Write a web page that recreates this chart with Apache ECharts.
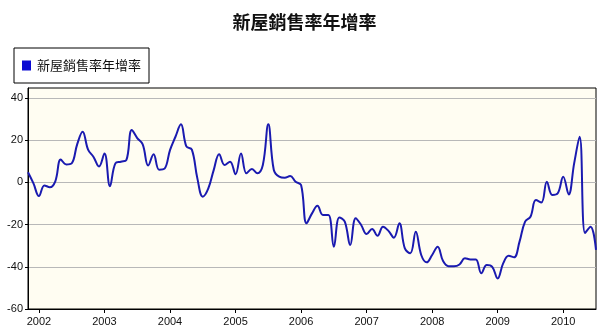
<!DOCTYPE html>
<html>
<head>
<meta charset="utf-8">
<script src="https://cdn.jsdelivr.net/npm/echarts@6/dist/echarts.min.js"></script>
<style>html,body{margin:0;padding:0;background:#fff;}#c{width:609px;height:335px;}</style>
</head>
<body>
<div id="c"></div>
<script>
var chartTitle = '新屋銷售率年增率';
var seriesName = '新屋銷售率年增率';
var startYear = 2001, startMonth = 11;
var values = [
  4.8, -0.5,
  -6.5, -1.5, -2.3, 0.5, 10.8, 8.5, 9, 18, 24, 15.5, 12, 7.5,
  13.7, -1.8, 9, 9.8, 10.5, 24.8, 21, 18, 8, 13.3, 6, 6.5,
  15.3, 21.6, 27.5, 17, 15.5, 2, -6.8, -3, 5.8, 13.3, 8.2, 9.8,
  3.8, 13.7, 4.3, 6.3, 4.3, 8.2, 27.5, 6, 2.7, 2.2, 3, 0.3,
  -1.3, -19.4, -14.7, -11.1, -15.5, -15.5, -30.5, -16.6, -18.6, -29.7, -17, -20.2,
  -24.5, -22.1, -25.3, -21, -23, -26.2, -19.4, -31.3, -33.6, -23.4, -34.4, -37.9,
  -34.4, -30.5, -37.3, -39.7, -39.7, -38.9, -36, -36.5, -36.5, -43.1, -39.2, -40,
  -45.5, -38.4, -34.8, -35.5, -28.1, -18.7, -16.3, -8.4, -9.5, 0.3, -6, -5.2,
  2.7, -5.7, 9, 21.6, -24, -21, -32
];
var yTicks = [-60, -40, -20, 0, 20, 40];

var months = [];
(function(){
  var y = startYear, m = startMonth;
  for (var i = 0; i < values.length; i++) {
    months.push(y + '-' + (m < 10 ? '0' + m : m));
    m++; if (m > 12) { m = 1; y++; }
  }
})();
function isJan(v){ return /-01$/.test(v); }

var chart = echarts.init(document.getElementById('c'));
chart.setOption({
  animation: false,
  backgroundColor: '#ffffff',
  title: {
    text: chartTitle, left: 'center', top: 8,
    textStyle: { fontFamily: 'Noto Sans CJK TC', fontSize: 18, fontWeight: 'bold', color: '#111' }
  },
  legend: {
    left: 14, top: 48,
    padding: [11, 8, 11, 8],
    borderColor: '#000', borderWidth: 1, borderRadius: 0,
    itemWidth: 9, itemHeight: 10, itemGap: 4,
    icon: 'rect',
    textStyle: { fontFamily: 'Noto Sans CJK TC', fontSize: 13, color: '#111', padding: [0,0,0,1] },
    data: [{ name: seriesName, itemStyle: { color: '#0a0ad2' } }]
  },
  grid: {
    left: 28, right: 13, top: 88, bottom: 26,
    show: true, borderColor: '#000', borderWidth: 1, backgroundColor: '#FFFDF2',
    containLabel: false
  },
  xAxis: {
    type: 'category', data: months, boundaryGap: false,
    axisLine: { show: true, onZero: false, lineStyle: { color: '#000', width: 1 } },
    axisTick: { show: true, length: 4, interval: function(i, v){ return isJan(v); }, lineStyle: { color: '#000' } },
    axisLabel: {
      interval: function(i, v){ return isJan(v); },
      formatter: function(v){ return v.slice(0, 4); },
      margin: 7, fontFamily: 'Liberation Sans', fontSize: 11, color: '#111'
    },
    splitLine: { show: false }
  },
  yAxis: {
    type: 'value', min: -60, max: 44.7,
    axisLine: { show: true, lineStyle: { color: '#000', width: 1 } },
    axisTick: { show: true, length: 3, customValues: yTicks, lineStyle: { color: '#000' } },
    axisLabel: { customValues: yTicks, margin: 5, fontFamily: 'Liberation Sans', fontSize: 11, color: '#111' },
    splitLine: { show: true, lineStyle: { color: '#b8b8b8', width: 1 } }
  },
  series: [{
    name: seriesName, type: 'line', data: values,
    smooth: 0.4, showSymbol: false, symbol: 'none',
    lineStyle: { color: '#1a1ab0', width: 2 },
    itemStyle: { color: '#0a0ad2' }
  }]
});
</script>
</body>
</html>
